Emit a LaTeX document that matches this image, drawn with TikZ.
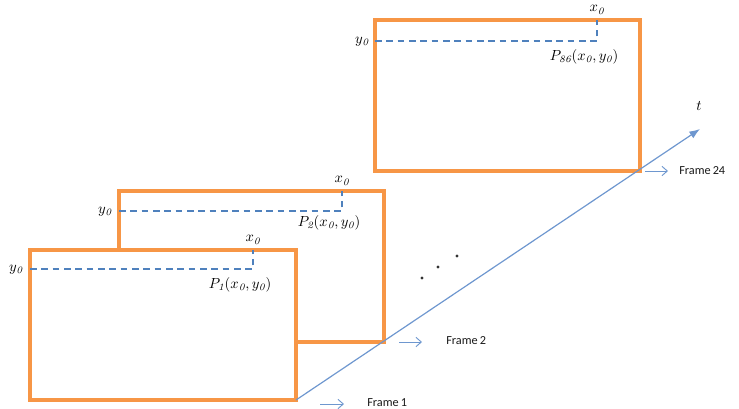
\documentclass[tikz,border=0pt]{standalone}
\usepackage{fontspec}
\newfontfamily\calib{Carlito}
\usetikzlibrary{arrows.meta}
\definecolor{forange}{HTML}{F79646}
\definecolor{dblue}{HTML}{4F81BD}
\definecolor{ablue}{HTML}{6E97CF}
\begin{document}
\begin{tikzpicture}[x=0.75pt,y=-0.75pt,
  frame/.style={draw=forange,line width=2.6pt,fill=white},
  dline/.style={draw=dblue,line width=1.2pt,dash pattern=on 5pt off 3.5pt},
  lbl/.style={inner sep=0pt,font=\fontsize{10.5}{12}\selectfont},
  flbl/.style={inner sep=0pt,font=\calib\fontsize{9.2}{11}\selectfont,anchor=west,text=black!90},
  farr/.style={draw=ablue,line width=0.7pt,-{Straight Barb[length=4pt,width=7pt]}},
  axis/.style={draw=ablue,line width=0.9pt,-{Latex[length=8pt,width=6pt]}},
  dot/.style={circle,fill=black!80,inner sep=0pt,minimum size=2.6pt}]
\useasboundingbox (0,0) rectangle (739,408);
% frame 24
\draw[frame] (375,20) rectangle (640,171);
\coordinate (c24) at (640,171);
% frame 2
\draw[frame] (119,191) rectangle (384,342);
\coordinate (c2) at (384,342);
% frame 1
\draw[frame] (30,250) rectangle (296,400);
\coordinate (c1) at (296,400);
% axis
\coordinate (tip) at (700,129);
\draw[axis] (c1) -- (tip);
\node[lbl] (t) at (699,106) {$t$};
% frame 24 annotations
\coordinate (a24) at (375,41); \coordinate (p24) at (597,41); \coordinate (b24) at (597,20);
\draw[dline] (a24) -- (p24) -- (b24);
\node[lbl] (y24) at (362,42) {$y_{\mathit{0}}$};
\node[lbl] (x24) at (597,10) {$x_{\mathit{0}}$};
\node[lbl] (P24) at (584,57) {$P_{\mathit{86}}(x_{\mathit{0}},y_{\mathit{0}})$};
% frame 2 annotations
\coordinate (a2) at (119,211); \coordinate (p2) at (342,211); \coordinate (b2) at (342,191);
\draw[dline] (a2) -- (p2) -- (b2);
\node[lbl] (y2) at (105,212) {$y_{\mathit{0}}$};
\node[lbl] (x2) at (342,181) {$x_{\mathit{0}}$};
\node[lbl] (P2) at (329,223) {$P_{\mathit{2}}(x_{\mathit{0}},y_{\mathit{0}})$};
% frame 1 annotations
\coordinate (a1) at (30,269); \coordinate (p1) at (253,269); \coordinate (b1) at (253,250);
\draw[dline] (a1) -- (p1) -- (b1);
\node[lbl] (y1) at (16,270) {$y_{\mathit{0}}$};
\node[lbl] (x1) at (253,240) {$x_{\mathit{0}}$};
\node[lbl] (P1) at (240,285) {$P_{\mathit{1}}(x_{\mathit{0}},y_{\mathit{0}})$};
% frame labels
\coordinate (s1) at (320,404); \coordinate (e1) at (344,404);
\draw[farr] (s1) -- (e1);
\node[flbl] (F1) at (367,403) {Frame\,1};
\coordinate (s2) at (399,342); \coordinate (e2) at (422,342);
\draw[farr] (s2) -- (e2);
\node[flbl] (F2) at (446,341) {Frame\,2};
\coordinate (s24) at (645,171); \coordinate (e24) at (668,171);
\draw[farr] (s24) -- (e24);
\node[flbl] (F24) at (679,171) {Frame\,24};
% dots
\node[dot] (d1) at (422,278) {};
\node[dot] (d2) at (438,267) {};
\node[dot] (d3) at (457,256) {};
\end{tikzpicture}
\end{document}
